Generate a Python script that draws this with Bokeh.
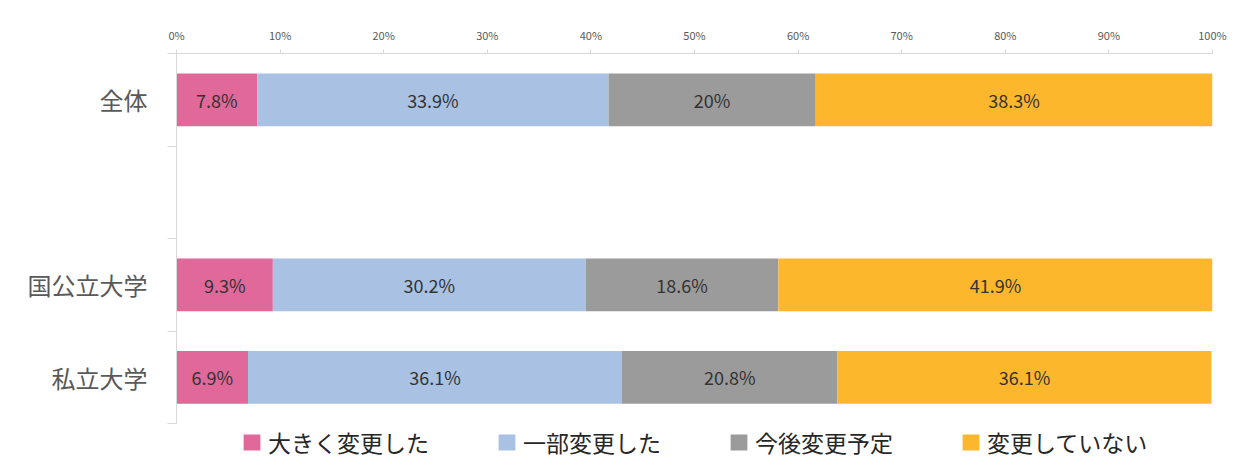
from bokeh.plotting import figure
from bokeh.models import ColumnDataSource, FixedTicker, Legend, LegendItem, PrintfTickFormatter, Range1d
from bokeh.core.properties import value
from bokeh.embed import file_html
from bokeh.resources import INLINE

# categories from top to bottom; "" is the empty spacer row
categories = ["全体", "", "国公立大学", "私立大学"]
series_names = ["大きく変更した", "一部変更した", "今後変更予定", "変更していない"]
changed_major = [7.8, None, 9.3, 6.9]
changed_part = [33.9, None, 30.2, 36.1]
planned = [20, None, 18.6, 20.8]
unchanged = [38.3, None, 41.9, 36.1]
x_ticks = [0, 10, 20, 30, 40, 50, 60, 70, 80, 90, 100]

colors = ["#E0699A", "#A9C1E3", "#9B9B9B", "#FDB72D"]
FONT = "Noto Sans CJK JP"

n = len(categories)
rows = [i for i, c in enumerate(categories) if c]
ys = [n - i - 0.5 for i in rows]
series = [changed_major, changed_part, planned, unchanged]
keys = ["s0", "s1", "s2", "s3"]

data = {"y": ys}
for k, s in zip(keys, series):
    data[k] = [s[i] for i in rows]
source = ColumnDataSource(data)

# the frame reaches down under the bars so that the legend fits inside it
p = figure(
    width=1232,
    height=462,
    x_range=Range1d(0, 100),
    y_range=Range1d(-0.42, n),
    x_axis_location="above",
    output_backend="svg",
    toolbar_location=None,
    min_border_left=176,
    min_border_right=20,
    min_border_top=53,
    min_border_bottom=0,
)
p.outline_line_color = None
p.grid.visible = False

renderers = p.hbar_stack(keys, y="y", height=0.57, color=colors, line_color=None, source=source)

# value labels in the middle of each segment
lx, ly, lt = [], [], []
for j, i in enumerate(rows):
    left = 0
    for s in series:
        v = s[i]
        lx.append(left + v / 2)
        ly.append(ys[j])
        lt.append("%g%%" % v)
        left += v
p.text(
    x=lx, y=ly, text=lt,
    text_align="center", text_baseline="middle",
    text_font=value(FONT), text_font_size="18px", text_color="#333333",
)

xa = p.xaxis[0]
xa.ticker = FixedTicker(ticks=x_ticks)
xa.formatter = PrintfTickFormatter(format="%d%%")
xa.axis_line_color = "#D9D9D9"
xa.major_tick_line_color = "#D9D9D9"
xa.major_tick_in = 0
xa.major_tick_out = 4
xa.minor_tick_line_color = None
xa.major_label_standoff = 7
xa.major_label_text_font = FONT
xa.major_label_text_font_size = "11px"
xa.major_label_text_color = "#595959"

ya = p.yaxis[0]
ya.bounds = (0, n)
ya.ticker = FixedTicker(ticks=ys, minor_ticks=list(range(n + 1)))
ya.major_label_overrides = {y: categories[i] for y, i in zip(ys, rows)}
ya.axis_line_color = "#D9D9D9"
ya.major_tick_line_color = None
ya.major_tick_in = 0
ya.major_tick_out = 0
ya.minor_tick_line_color = "#D9D9D9"
ya.minor_tick_in = 0
ya.minor_tick_out = 9
ya.major_label_standoff = 20
ya.major_label_text_font = FONT
ya.major_label_text_font_size = "24px"
ya.major_label_text_color = "#595959"

legend = Legend(
    items=[LegendItem(label=name, renderers=[r]) for name, r in zip(series_names, renderers)],
    orientation="horizontal",
    location=(65, 3),
    spacing=67,
    glyph_width=21,
    glyph_height=20,
    label_standoff=6,
    label_text_font=FONT,
    label_text_font_size="23px",
    label_text_color="#262626",
    border_line_color=None,
    background_fill_alpha=0,
    padding=0,
    margin=0,
)
p.add_layout(legend)

open("out.html", "w").write(file_html(p, INLINE))
